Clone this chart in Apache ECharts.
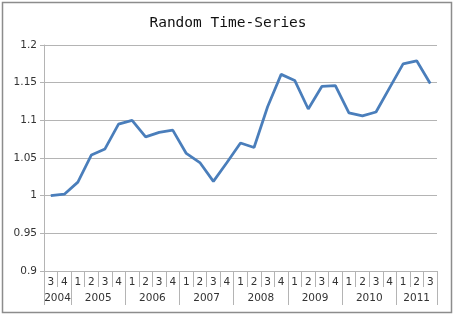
<!DOCTYPE html>
<html>
<head>
<meta charset="utf-8">
<script src="https://cdn.jsdelivr.net/npm/echarts@6/dist/echarts.min.js"></script>
<style>
html,body{margin:0;padding:0;background:#fff;}
#chart{width:456px;height:315px;}
</style>
</head>
<body>
<div id="chart"></div>
<script>
var years = ['2004','2005','2006','2007','2008','2009','2010','2011'];
var quartersPerYear = [2,4,4,4,4,4,4,3];
var quarterLabels = ['3','4','1','2','3','4','1','2','3','4','1','2','3','4','1','2','3','4','1','2','3','4','1','2','3','4','1','2','3'];
var values = [1.000, 1.002, 1.018, 1.054, 1.062, 1.095, 1.100, 1.078, 1.084, 1.087,
              1.056, 1.044, 1.019, 1.044, 1.070, 1.064, 1.118, 1.161, 1.153, 1.115,
              1.145, 1.146, 1.110, 1.106, 1.111, 1.143, 1.175, 1.179, 1.149];
var yTicks = [0.9, 0.95, 1, 1.05, 1.1, 1.15, 1.2];

// build year axis (half-quarter resolution, boundaries on ticks)
var n = quarterLabels.length;
var yearAxisData = [];
for (var i = 0; i <= 2 * n; i++) yearAxisData.push('');
var boundaries = {};
var s = 0;
for (var k = 0; k < years.length; k++) {
  boundaries[2 * s] = true;
  yearAxisData[2 * s + quartersPerYear[k]] = years[k];
  s += quartersPerYear[k];
}
boundaries[2 * s] = true;

var grey = '#b4b4b4';
var labelFont = {fontFamily: 'DejaVu Sans', fontSize: 10.5, color: '#333'};

var chart = echarts.init(document.getElementById('chart'), null, {renderer: 'canvas'});
chart.setOption({
  animation: false,
  backgroundColor: '#fff',
  title: {
    text: 'Random Time-Series',
    left: 'center',
    top: 11,
    textStyle: {fontFamily: 'DejaVu Sans Mono', fontSize: 14.5, fontWeight: 'normal', color: '#111'}
  },
  graphic: [{
    type: 'rect',
    shape: {x: 2.5, y: 2.5, width: 449, height: 310},
    style: {fill: 'none', stroke: '#8c8c8c', lineWidth: 1.5},
    silent: true
  }],
  grid: {left: 44, right: 19, top: 45, bottom: 44, containLabel: false},
  xAxis: [{
    type: 'category',
    data: quarterLabels,
    position: 'bottom',
    boundaryGap: true,
    axisLine: {show: true, lineStyle: {color: grey, width: 1}},
    axisTick: {show: true, alignWithLabel: false, interval: 0, length: 16, lineStyle: {color: grey}},
    axisLabel: Object.assign({interval: 0, margin: 6}, labelFont),
    splitLine: {show: false}
  }, {
    type: 'category',
    data: yearAxisData,
    position: 'bottom',
    boundaryGap: false,
    axisLine: {show: false},
    axisTick: {show: true, length: 34, lineStyle: {color: grey},
      interval: function (idx) { return !!boundaries[idx]; }},
    axisLabel: Object.assign({interval: 0, margin: 22}, labelFont),
    splitLine: {show: false}
  }],
  yAxis: {
    type: 'value',
    min: 0.9,
    max: 1.2,
    interval: 0.05,
    axisLine: {show: true, lineStyle: {color: grey}},
    axisTick: {show: true, length: 4, lineStyle: {color: grey}},
    axisLabel: Object.assign({margin: 7, formatter: function (v) {
      var best = yTicks.reduce(function (a, b) { return Math.abs(b - v) < Math.abs(a - v) ? b : a; });
      return String(best);
    }}, labelFont),
    splitLine: {show: true, lineStyle: {color: grey, width: 1}}
  },
  series: [{
    type: 'line',
    xAxisIndex: 0,
    data: values,
    symbol: 'none',
    smooth: false,
    lineStyle: {color: '#4a7ebb', width: 2.75}
  }]
});
</script>
</body>
</html>
